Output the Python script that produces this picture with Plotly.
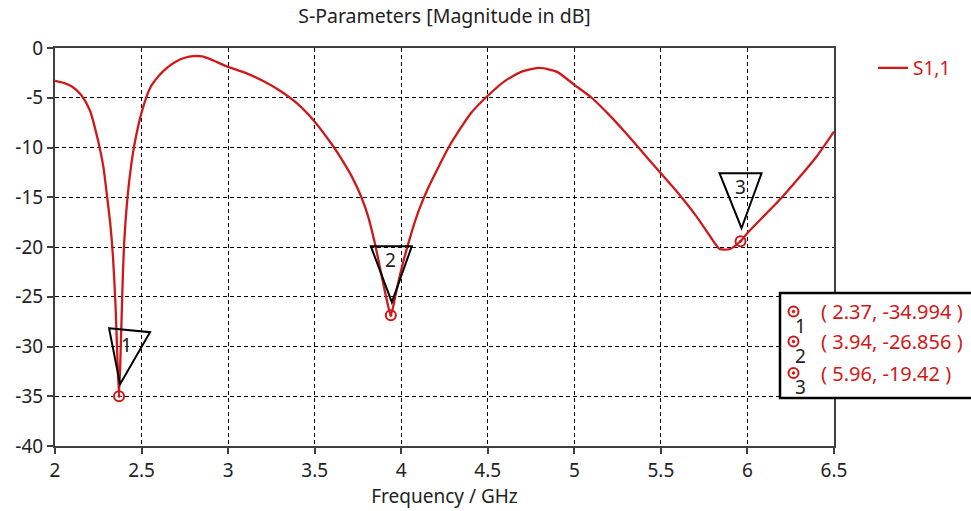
import plotly.graph_objects as go

# ---- data ----
freq_ghz = [2.00, 2.05, 2.10, 2.15, 2.20, 2.25, 2.28, 2.30, 2.32, 2.335, 2.35, 2.36, 2.37,
            2.38, 2.39, 2.40, 2.42, 2.44, 2.46, 2.50, 2.55, 2.60, 2.65, 2.70, 2.75, 2.80,
            2.85, 2.90, 3.00, 3.10, 3.20, 3.30, 3.40, 3.50, 3.60, 3.66, 3.72, 3.77, 3.81,
            3.85, 3.88, 3.91, 3.94, 3.97, 4.00, 4.05, 4.10, 4.16, 4.22, 4.28, 4.40, 4.50,
            4.60, 4.70, 4.80, 4.90, 5.00, 5.10, 5.20, 5.30, 5.40, 5.50, 5.60, 5.70, 5.78,
            5.84, 5.90, 5.96, 6.00, 6.10, 6.20, 6.30, 6.40, 6.50]
s11_db = [-3.3, -3.5, -3.9, -4.7, -6.2, -9.4, -12.0, -14.8, -17.8, -21.0, -26.0, -31.0, -34.994,
          -30.0, -24.0, -19.5, -14.8, -11.8, -9.6, -6.5, -4.0, -2.8, -1.95, -1.35, -0.98, -0.82,
          -0.85, -1.15, -1.9, -2.5, -3.3, -4.3, -5.6, -7.4, -9.7, -11.3, -13.1, -15.0, -17.0,
          -19.8, -22.3, -24.8, -26.856, -24.6, -22.3, -19.1, -16.4, -13.9, -11.8, -9.8, -6.6, -4.8,
          -3.3, -2.35, -2.0, -2.4, -3.7, -5.0, -6.7, -8.6, -10.6, -12.6, -14.6, -16.8, -18.8,
          -20.2, -20.2, -19.42, -18.6, -16.8, -15.0, -13.0, -10.9, -8.4]
marker_ids = ["1", "2", "3"]
marker_f = [2.37, 3.94, 5.96]
marker_db = [-34.994, -26.856, -19.42]
x_ticks = [2, 2.5, 3, 3.5, 4, 4.5, 5, 5.5, 6, 6.5]
y_ticks = [0, -5, -10, -15, -20, -25, -30, -35, -40]
series_name = "S1,1"

# ---- layout constants ----
W, H = 971, 511
L, R, T, B = 55, 137, 48, 65
PW, PH = W - L - R, H - T - B
RED = "#d01818"
FONT = "Noto Sans"


def px2x(px):
    return (px - L) / PW


def py2y(py):
    return (H - B - py) / PH


fig = go.Figure()
fig.add_trace(go.Scatter(
    x=freq_ghz, y=s11_db, mode="lines", name=series_name,
    line=dict(color=RED, width=2.3, shape="spline", smoothing=0.6),
))
fig.add_trace(go.Scatter(
    x=marker_f, y=marker_db, mode="markers", showlegend=False,
    marker=dict(symbol="circle-open-dot", size=10, color=RED, line=dict(width=2, color=RED)),
))

shapes = []
annotations = []
# triangle marker flags (pixel offsets from the marked point)
tri_paths = [
    "M-10,68 L31,64 L1,12 Z",
    "M-20,69 L21,69 L1,13 Z",
    "M-21,68 L21,68 L1,13 Z",
]
label_shift = [(7, 51), (0, 55), (0, 54)]
for i in range(3):
    shapes.append(dict(
        type="path", xref="x", yref="y", xsizemode="pixel", ysizemode="pixel",
        xanchor=marker_f[i], yanchor=marker_db[i], path=tri_paths[i],
        line=dict(color="black", width=2), fillcolor="rgba(0,0,0,0)", layer="above",
    ))
    annotations.append(dict(
        x=marker_f[i], y=marker_db[i], xref="x", yref="y", text=marker_ids[i],
        showarrow=False, xshift=label_shift[i][0], yshift=label_shift[i][1],
        font=dict(family=FONT, size=19, color="#222"),
    ))

# marker readout box
shapes.append(dict(
    type="rect", xref="paper", yref="paper",
    x0=px2x(780), x1=px2x(990), y0=py2y(398), y1=py2y(293),
    line=dict(color="black", width=2.5), fillcolor="white", layer="above",
))
row_y = [311.5, 341.5, 373]
for i in range(3):
    yy = py2y(row_y[i])
    shapes.append(dict(
        type="circle", xref="paper", yref="paper", xsizemode="pixel", ysizemode="pixel",
        xanchor=px2x(793.5), yanchor=yy, x0=-5, x1=5, y0=-5, y1=5,
        line=dict(color=RED, width=2), fillcolor="rgba(0,0,0,0)", layer="above",
    ))
    shapes.append(dict(
        type="circle", xref="paper", yref="paper", xsizemode="pixel", ysizemode="pixel",
        xanchor=px2x(793.5), yanchor=yy, x0=-1.3, x1=1.3, y0=-1.3, y1=1.3,
        line=dict(color=RED, width=1), fillcolor=RED, layer="above",
    ))
    annotations.append(dict(
        x=px2x(800), y=py2y(row_y[i] + 14), xref="paper", yref="paper",
        text=marker_ids[i], showarrow=False, xanchor="center", yanchor="middle",
        font=dict(family=FONT, size=19, color="#222"),
    ))
    annotations.append(dict(
        x=px2x(819), y=yy, xref="paper", yref="paper",
        text=f"( {marker_f[i]:g}, {marker_db[i]:g} )", showarrow=False,
        xanchor="left", yanchor="middle",
        font=dict(family=FONT, size=20, color=RED),
    ))

fig.update_layout(
    width=W, height=H,
    margin=dict(l=L, r=R, t=T, b=B, pad=0, autoexpand=False),
    paper_bgcolor="white", plot_bgcolor="white",
    font=dict(family=FONT, size=19, color="#222"),
    title=dict(text="S-Parameters [Magnitude in dB]", x=0.5, xref="paper", xanchor="center",
               y=1 - 16 / H, yref="container", yanchor="middle",
               font=dict(family=FONT, size=19.5, color="#222")),
    showlegend=True,
    legend=dict(x=px2x(873), y=py2y(68), xanchor="left", yanchor="middle",
                bgcolor="rgba(0,0,0,0)", borderwidth=0,
                font=dict(family=FONT, size=19, color=RED)),
    shapes=shapes, annotations=annotations,
)
fig.update_xaxes(
    range=[2, 6.5], tickvals=x_ticks, ticktext=[f"{v:g}" for v in x_ticks],
    showgrid=True, gridcolor="black", gridwidth=1, griddash="4px,3px",
    showline=True, linecolor="#404040", linewidth=2, mirror=True,
    ticks="outside", ticklen=6, tickcolor="#404040", tickwidth=2,
    zeroline=False, automargin=False,
    title=dict(text="Frequency / GHz", standoff=8, font=dict(family=FONT, size=19)),
)
fig.update_yaxes(
    range=[-40, 0], tickvals=y_ticks, ticktext=[f"{v:g}" for v in y_ticks],
    showgrid=True, gridcolor="black", gridwidth=1, griddash="4px,3px",
    showline=True, linecolor="#404040", linewidth=2, mirror=True,
    ticks="outside", ticklen=6, tickcolor="#404040", tickwidth=2,
    zeroline=False, automargin=False,
)

fig.write_html("out.html", config={"displayModeBar": False},
               post_script="document.body.style.margin='0';document.body.style.overflow='hidden';")
